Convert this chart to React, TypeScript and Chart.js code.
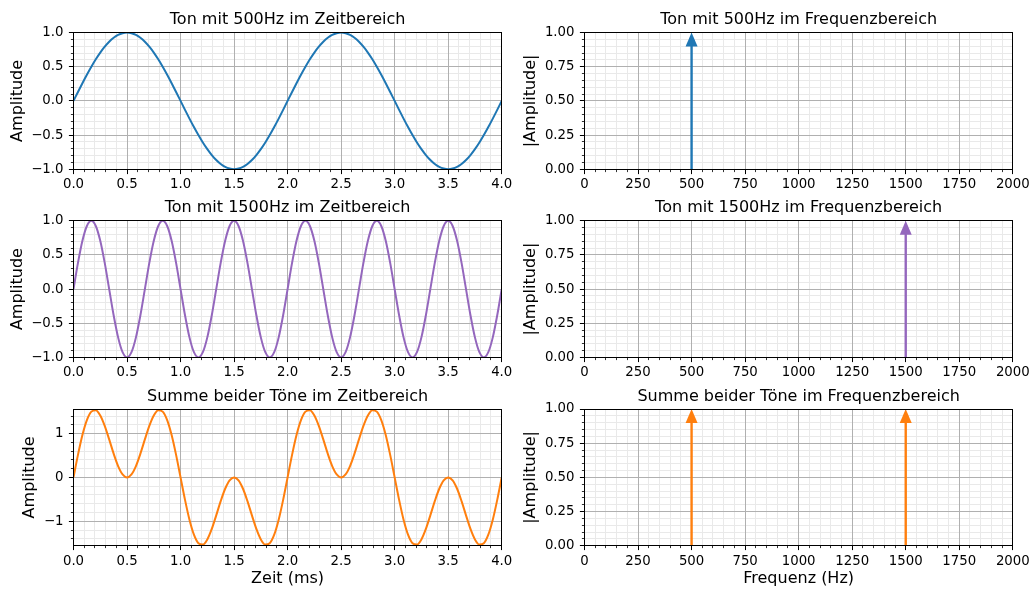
import React, { useEffect, useRef } from "react";
import { Chart, registerables } from "chart.js";
Chart.register(...registerables);

// ---------- data ----------
const TIME_MS = [
  0, 0.0417, 0.0833, 0.125, 0.1667, 0.2083, 0.25, 0.2917, 0.3333, 0.375, 0.4167, 0.4583,
  0.5, 0.5417, 0.5833, 0.625, 0.6667, 0.7083, 0.75, 0.7917, 0.8333, 0.875, 0.9167, 0.9583,
  1.0, 1.0417, 1.0833, 1.125, 1.1667, 1.2083, 1.25, 1.2917, 1.3333, 1.375, 1.4167, 1.4583,
  1.5, 1.5417, 1.5833, 1.625, 1.6667, 1.7083, 1.75, 1.7917, 1.8333, 1.875, 1.9167, 1.9583,
  2.0, 2.0417, 2.0833, 2.125, 2.1667, 2.2083, 2.25, 2.2917, 2.3333, 2.375, 2.4167, 2.4583,
  2.5, 2.5417, 2.5833, 2.625, 2.6667, 2.7083, 2.75, 2.7917, 2.8333, 2.875, 2.9167, 2.9583,
  3.0, 3.0417, 3.0833, 3.125, 3.1667, 3.2083, 3.25, 3.2917, 3.3333, 3.375, 3.4167, 3.4583,
  3.5, 3.5417, 3.5833, 3.625, 3.6667, 3.7083, 3.75, 3.7917, 3.8333, 3.875, 3.9167, 3.9583,
  4.0,
];

const TONE_500 = [
  0, 0.131, 0.259, 0.383, 0.5, 0.609, 0.707, 0.793, 0.866, 0.924, 0.966, 0.991,
  1, 0.991, 0.966, 0.924, 0.866, 0.793, 0.707, 0.609, 0.5, 0.383, 0.259, 0.131,
  0, -0.131, -0.259, -0.383, -0.5, -0.609, -0.707, -0.793, -0.866, -0.924, -0.966, -0.991,
  -1, -0.991, -0.966, -0.924, -0.866, -0.793, -0.707, -0.609, -0.5, -0.383, -0.259, -0.131,
  0, 0.131, 0.259, 0.383, 0.5, 0.609, 0.707, 0.793, 0.866, 0.924, 0.966, 0.991,
  1, 0.991, 0.966, 0.924, 0.866, 0.793, 0.707, 0.609, 0.5, 0.383, 0.259, 0.131,
  0, -0.131, -0.259, -0.383, -0.5, -0.609, -0.707, -0.793, -0.866, -0.924, -0.966, -0.991,
  -1, -0.991, -0.966, -0.924, -0.866, -0.793, -0.707, -0.609, -0.5, -0.383, -0.259, -0.131,
  0,
];

const TONE_1500 = [
  0, 0.383, 0.707, 0.924, 1, 0.924, 0.707, 0.383, 0, -0.383, -0.707, -0.924, -1, -0.924, -0.707, -0.383,
  0, 0.383, 0.707, 0.924, 1, 0.924, 0.707, 0.383, 0, -0.383, -0.707, -0.924, -1, -0.924, -0.707, -0.383,
  0, 0.383, 0.707, 0.924, 1, 0.924, 0.707, 0.383, 0, -0.383, -0.707, -0.924, -1, -0.924, -0.707, -0.383,
  0, 0.383, 0.707, 0.924, 1, 0.924, 0.707, 0.383, 0, -0.383, -0.707, -0.924, -1, -0.924, -0.707, -0.383,
  0, 0.383, 0.707, 0.924, 1, 0.924, 0.707, 0.383, 0, -0.383, -0.707, -0.924, -1, -0.924, -0.707, -0.383,
  0, 0.383, 0.707, 0.924, 1, 0.924, 0.707, 0.383, 0, -0.383, -0.707, -0.924, -1, -0.924, -0.707, -0.383,
  0,
];

const TONE_SUM = [
  0, 0.513, 0.966, 1.307, 1.5, 1.533, 1.414, 1.176, 0.866, 0.541, 0.259, 0.068,
  0, 0.068, 0.259, 0.541, 0.866, 1.176, 1.414, 1.533, 1.5, 1.307, 0.966, 0.513,
  0, -0.513, -0.966, -1.307, -1.5, -1.533, -1.414, -1.176, -0.866, -0.541, -0.259, -0.068,
  0, -0.068, -0.259, -0.541, -0.866, -1.176, -1.414, -1.533, -1.5, -1.307, -0.966, -0.513,
  0, 0.513, 0.966, 1.307, 1.5, 1.533, 1.414, 1.176, 0.866, 0.541, 0.259, 0.068,
  0, 0.068, 0.259, 0.541, 0.866, 1.176, 1.414, 1.533, 1.5, 1.307, 0.966, 0.513,
  0, -0.513, -0.966, -1.307, -1.5, -1.533, -1.414, -1.176, -0.866, -0.541, -0.259, -0.068,
  0, -0.068, -0.259, -0.541, -0.866, -1.176, -1.414, -1.533, -1.5, -1.307, -0.966, -0.513,
  0,
];

const SPEC_FREQ_500 = [500];
const SPEC_AMP_500 = [1];
const SPEC_FREQ_1500 = [1500];
const SPEC_AMP_1500 = [1];
const SPEC_FREQ_SUM = [500, 1500];
const SPEC_AMP_SUM = [1, 1];

const TITLES = [
  "Ton mit 500Hz im Zeitbereich",
  "Ton mit 500Hz im Frequenzbereich",
  "Ton mit 1500Hz im Zeitbereich",
  "Ton mit 1500Hz im Frequenzbereich",
  "Summe beider Töne im Zeitbereich",
  "Summe beider Töne im Frequenzbereich",
];
const TIME_LABEL = "Zeit (ms)";
const FREQ_LABEL = "Frequenz (Hz)";
const AMP_LABEL = "Amplitude";
const ABS_AMP_LABEL = "|Amplitude|";

// ---------- styling / layout ----------
const W = 1033;
const H = 592;
const FONT = "'DejaVu Sans', sans-serif";
const BLUE = "#1f77b4";
const PURPLE = "#9467bd";
const ORANGE = "#ff7f0e";
const TICK_FS = 13.3;
const LABEL_FS = 16;
const Y_BOX = 70;
const X_BOX = 43;
const MAJOR_GRID = "#b0b0b0";
const MINOR_GRID = "#e9e9e9";

const COLS = [
  { left: 73.5, right: 501.7 },
  { left: 584.5, right: 1012.8 },
];
const ROWS = [
  { top: 32.6, bottom: 169.2 },
  { top: 220.8, bottom: 357.4 },
  { top: 409.0, bottom: 545.8 },
];

Chart.defaults.font.family = FONT;
Chart.defaults.color = "#000";

const minus = (s: string) => s.replace("-", "\u2212");
const isMult = (v: number, step: number) => Math.abs(v / step - Math.round(v / step)) < 1e-6;

type Panel = {
  kind: "time" | "freq";
  col: number;
  row: number;
  title: string;
  color: string;
  xs: number[];
  ys: number[];
  xMin: number; xMax: number; xMinor: number; xMajor: number; xDec: number;
  yMin: number; yMax: number; yMinor: number; yMajor: number; yDec: number;
  yTitle: string; yTitlePad: number;
  xTitle?: string;
};

const timeAxis = { xMin: 0, xMax: 4, xMinor: 0.1, xMajor: 0.5, xDec: 1 };
const freqAxis = { xMin: 0, xMax: 2000, xMinor: 50, xMajor: 250, xDec: 0 };
const ampAxis = { yMin: -1, yMax: 1, yMinor: 0.1, yMajor: 0.5, yDec: 1 };
const specAxis = { yMin: 0, yMax: 1, yMinor: 0.05, yMajor: 0.25, yDec: 2 };

const PANELS: Panel[] = [
  { kind: "time", col: 0, row: 0, title: TITLES[0], color: BLUE, xs: TIME_MS, ys: TONE_500,
    ...timeAxis, ...ampAxis, yTitle: AMP_LABEL, yTitlePad: 4.6 },
  { kind: "freq", col: 1, row: 0, title: TITLES[1], color: BLUE, xs: SPEC_FREQ_500, ys: SPEC_AMP_500,
    ...freqAxis, ...specAxis, yTitle: ABS_AMP_LABEL, yTitlePad: 6.9 },
  { kind: "time", col: 0, row: 1, title: TITLES[2], color: PURPLE, xs: TIME_MS, ys: TONE_1500,
    ...timeAxis, ...ampAxis, yTitle: AMP_LABEL, yTitlePad: 4.6 },
  { kind: "freq", col: 1, row: 1, title: TITLES[3], color: PURPLE, xs: SPEC_FREQ_1500, ys: SPEC_AMP_1500,
    ...freqAxis, ...specAxis, yTitle: ABS_AMP_LABEL, yTitlePad: 6.9 },
  { kind: "time", col: 0, row: 2, title: TITLES[4], color: ORANGE, xs: TIME_MS, ys: TONE_SUM,
    ...timeAxis, yMin: -1.56, yMax: 1.56, yMinor: 0.2, yMajor: 1, yDec: 0,
    yTitle: AMP_LABEL, yTitlePad: 16.9, xTitle: TIME_LABEL },
  { kind: "freq", col: 1, row: 2, title: TITLES[5], color: ORANGE, xs: SPEC_FREQ_SUM, ys: SPEC_AMP_SUM,
    ...freqAxis, ...specAxis, yTitle: ABS_AMP_LABEL, yTitlePad: 6.9, xTitle: FREQ_LABEL },
];

const align = (p: number, w = 1) => Math.round(p - w / 2) + w / 2;

function decorPlugin(p: Panel) {
  return {
    id: "mplDecor",
    beforeDatasetsDraw(chart: any) {
      // grid: minor lines first, major lines on top
      const { ctx, chartArea: a, scales } = chart;
      const xs = scales.x;
      const ys = scales.y;
      ctx.save();
      ctx.lineWidth = 1;
      for (const pass of [false, true]) {
        ctx.strokeStyle = pass ? MAJOR_GRID : MINOR_GRID;
        ctx.beginPath();
        xs.ticks.forEach((tk: any) => {
          const v = tk.value;
          if (!isMult(v, p.xMinor)) return;
          if (isMult(v, p.xMajor) !== pass) return;
          const px = align(xs.getPixelForValue(v));
          ctx.moveTo(px, a.top);
          ctx.lineTo(px, a.bottom);
        });
        ys.ticks.forEach((tk: any) => {
          const v = tk.value;
          if (!isMult(v, p.yMinor)) return;
          if (isMult(v, p.yMajor) !== pass) return;
          const py = align(ys.getPixelForValue(v));
          ctx.moveTo(a.left, py);
          ctx.lineTo(a.right, py);
        });
        ctx.stroke();
      }
      ctx.restore();
    },
    afterDatasetsDraw(chart: any) {
      const { ctx, chartArea: a, scales } = chart;
      const xs = scales.x;
      const ys = scales.y;
      ctx.save();

      // arrows (stems) for frequency plots
      if (p.kind === "freq") {
        const base = ys.getPixelForValue(0);
        chart.data.datasets.forEach((ds: any, i: number) => {
          const meta = chart.getDatasetMeta(i);
          meta.data.forEach((el: any) => {
            const x = el.x;
            const tip = el.y;
            const headLen = 14;
            const headW = 12;
            ctx.strokeStyle = ds.borderColor;
            ctx.fillStyle = ds.borderColor;
            ctx.lineWidth = 2.4;
            ctx.beginPath();
            ctx.moveTo(x, base);
            ctx.lineTo(x, tip + headLen - 1);
            ctx.stroke();
            ctx.beginPath();
            ctx.moveTo(x, tip);
            ctx.lineTo(x - headW / 2, tip + headLen);
            ctx.lineTo(x + headW / 2, tip + headLen);
            ctx.closePath();
            ctx.fill();
          });
        });
      }

      // frame
      ctx.strokeStyle = "#000";
      ctx.lineWidth = 1;
      const l = align(a.left), r = align(a.right), t = align(a.top), b = align(a.bottom);
      ctx.strokeRect(l, t, r - l, b - t);

      // tick marks (outward, major + minor)
      xs.ticks.forEach((tk: any) => {
        const v = tk.value;
        if (!isMult(v, p.xMinor)) return;
        const major = isMult(v, p.xMajor);
        const px = align(xs.getPixelForValue(v));
        ctx.lineWidth = major ? 1 : 0.8;
        ctx.beginPath();
        ctx.moveTo(px, b);
        ctx.lineTo(px, b + (major ? 4.6 : 2.6));
        ctx.stroke();
      });
      ys.ticks.forEach((tk: any) => {
        const v = tk.value;
        if (!isMult(v, p.yMinor)) return;
        const major = isMult(v, p.yMajor);
        const py = align(ys.getPixelForValue(v));
        ctx.lineWidth = major ? 1 : 0.8;
        ctx.beginPath();
        ctx.moveTo(l, py);
        ctx.lineTo(l - (major ? 4.6 : 2.6), py);
        ctx.stroke();
      });

      // subplot title
      ctx.fillStyle = "#000";
      ctx.font = `${LABEL_FS}px ${FONT}`;
      ctx.textAlign = "center";
      ctx.textBaseline = "alphabetic";
      ctx.fillText(p.title, (a.left + a.right) / 2, a.top - 8.5);
      ctx.restore();
    },
  };
}

function buildConfig(p: Panel): any {
  const col = COLS[p.col];
  const row = ROWS[p.row];
  const points = p.xs.map((x, i) => ({ x, y: p.ys[i] }));

  const dataset =
    p.kind === "time"
      ? {
          type: "line",
          data: points,
          borderColor: p.color,
          backgroundColor: p.color,
          borderWidth: 2,
          pointRadius: 0,
          fill: false,
          cubicInterpolationMode: "monotone",
        }
      : {
          type: "scatter",
          data: points,
          borderColor: p.color,
          backgroundColor: p.color,
          pointRadius: 0,
          showLine: false,
        };

  const noPad = (s: any) => {
    s.paddingLeft = 0;
    s.paddingRight = 0;
    s.paddingTop = 0;
    s.paddingBottom = 0;
  };

  return {
    type: p.kind === "time" ? "line" : "scatter",
    data: { datasets: [dataset] },
    plugins: [decorPlugin(p)],
    options: {
      responsive: false,
      animation: false,
      devicePixelRatio: 1,
      events: [],
      layout: {
        autoPadding: false,
        padding: {
          left: col.left - Y_BOX,
          top: row.top,
          right: W - col.right,
          bottom: H - row.bottom - X_BOX,
        },
      },
      plugins: {
        legend: { display: false },
        tooltip: { enabled: false },
        title: { display: false },
      },
      scales: {
        x: {
          type: "linear",
          min: p.xMin,
          max: p.xMax,
          afterFit: (s: any) => {
            s.height = X_BOX;
            noPad(s);
          },
          border: { display: false },
          grid: { display: false, drawTicks: false },
          ticks: {
            stepSize: p.xMinor,
            autoSkip: false,
            includeBounds: false,
            maxRotation: 0,
            minRotation: 0,
            padding: 7.5,
            color: "#000",
            font: { size: TICK_FS, family: FONT },
            callback: (v: number) => (isMult(v, p.xMajor) ? minus(v.toFixed(p.xDec)) : ""),
          },
          title: p.xTitle
            ? {
                display: true,
                text: p.xTitle,
                color: "#000",
                font: { size: LABEL_FS, family: FONT },
                padding: { top: 0, bottom: 0 },
              }
            : { display: false },
        },
        y: {
          type: "linear",
          min: p.yMin,
          max: p.yMax,
          afterFit: (s: any) => {
            s.width = Y_BOX;
            noPad(s);
          },
          border: { display: false },
          grid: { display: false, drawTicks: false },
          ticks: {
            stepSize: p.yMinor,
            autoSkip: false,
            includeBounds: false,
            padding: 10,
            color: "#000",
            font: { size: TICK_FS, family: FONT },
            callback: (v: number) => {
              if (!isMult(v, p.yMajor)) return "";
              const r = Math.abs(v) < 1e-9 ? 0 : v;
              return minus(r.toFixed(p.yDec));
            },
          },
          title: {
            display: true,
            text: p.yTitle,
            color: "#000",
            font: { size: LABEL_FS, family: FONT },
            padding: { top: p.yTitlePad, bottom: 0 },
          },
        },
      },
    },
  };
}

export default function App() {
  const refs = useRef<(HTMLCanvasElement | null)[]>([]);
  useEffect(() => {
    const charts = PANELS.map((p, i) => new Chart(refs.current[i] as HTMLCanvasElement, buildConfig(p)));
    return () => charts.forEach((c) => c.destroy());
  }, []);
  return (
    <div style={{ position: "absolute", left: 0, top: 0, width: W, height: H, background: "#fff" }}>
      {PANELS.map((p, i) => (
        <canvas
          key={i}
          ref={(el) => {
            refs.current[i] = el;
          }}
          width={W}
          height={H}
          style={{ position: "absolute", left: 0, top: 0, width: W, height: H }}
        />
      ))}
    </div>
  );
}
